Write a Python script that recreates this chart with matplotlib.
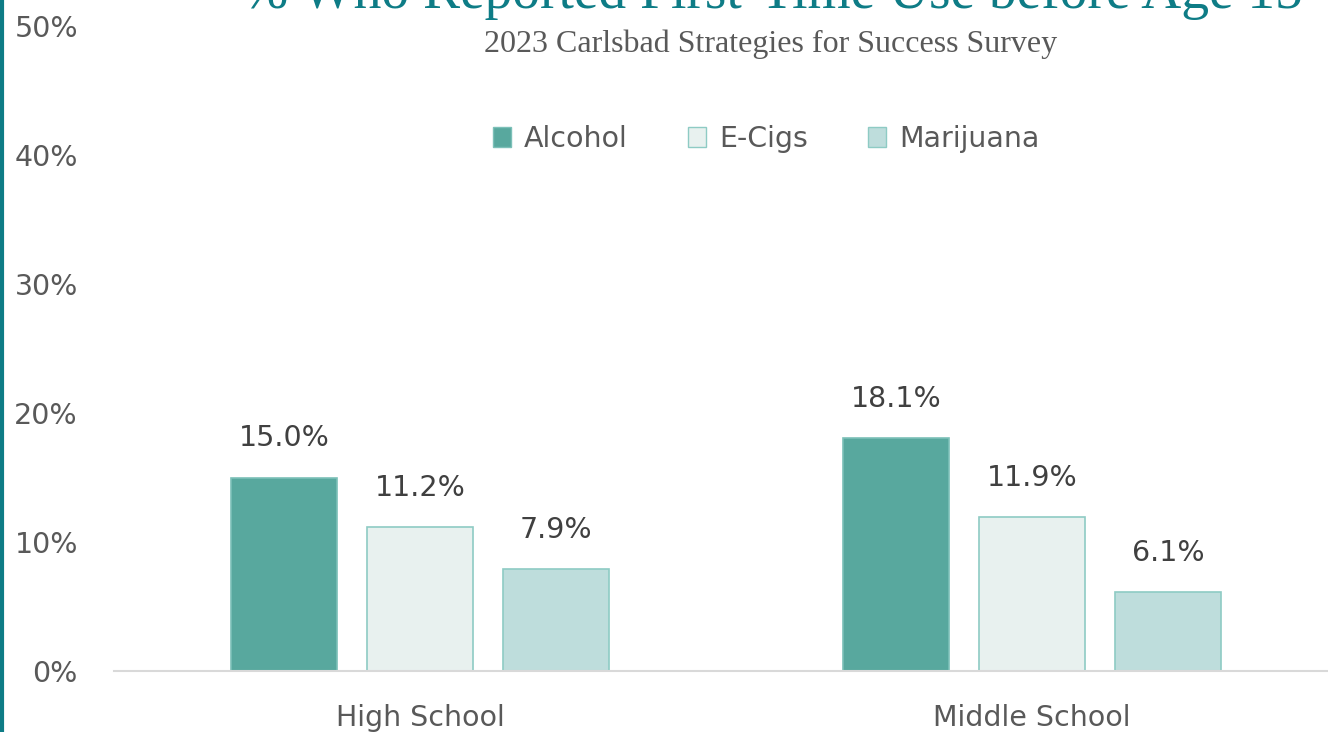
import numpy as np
from matplotlib import pyplot as plt
from matplotlib.patches import Patch

categories = ['High School', 'Middle School']
series = ['Alcohol', 'E-Cigs', 'Marijuana']
alcohol = [15.0, 18.1]
ecigs = [11.2, 11.9]
marijuana = [7.9, 6.1]
yticks = [0, 10, 20, 30, 40, 50]

fill = ['#58A89E', '#E8F1EF', '#BEDDDC']
edge = ['#7CC0B8', '#8ECBC4', '#8ECBC4']

plt.rcParams['font.family'] = ['DejaVu Sans']

fig = plt.figure(figsize=(13.28, 7.32), dpi=100)
# axes run off the right edge like the original slide
ax = fig.add_axes([114 / 1328, 61 / 732, 1224 / 1328, 645 / 732])

x = np.arange(len(categories))
w = 0.173
step = 0.222
for i, vals in enumerate([alcohol, ecigs, marijuana]):
    bars = ax.bar(x + (i - 1) * step, vals, w, color=fill[i], edgecolor=edge[i], linewidth=1.2)
    for b, v in zip(bars, vals):
        ax.annotate('{:.1f}%'.format(v), (b.get_x() + b.get_width() / 2, v),
                    xytext=(0, 18), textcoords='offset points', ha='center', va='bottom',
                    fontsize=20.5, color='#404040')

ax.set_xlim(-0.5, 1.5)
ax.set_ylim(0, 50)
ax.set_yticks(yticks)
ax.set_yticklabels(['{}%'.format(t) for t in yticks])
ax.set_xticks(x)
ax.set_xticklabels(categories)
ax.tick_params(axis='both', length=0, labelsize=20.5, labelcolor='#595959')
ax.tick_params(axis='y', pad=26)
ax.tick_params(axis='x', pad=24)
for s in ['top', 'right', 'left']:
    ax.spines[s].set_visible(False)
ax.spines['bottom'].set_color('#D9D9D9')
ax.spines['bottom'].set_linewidth(1.5)

handles = [Patch(facecolor=fill[i], edgecolor=edge[i], label=series[i]) for i in range(3)]
fig.legend(handles=handles, loc='center', bbox_to_anchor=(766 / 1328, 1 - 139 / 732),
           ncol=3, frameon=False, fontsize=20.5, labelcolor='#595959',
           handlelength=0.65, handleheight=0.65, handletextpad=0.45, columnspacing=2.1)

fig.text(772 / 1328, 1 - 8 / 732, '% Who Reported First-Time Use before Age 15',
         ha='center', va='baseline', fontsize=40, color='#0E7C86', family='Liberation Serif')
fig.text(771 / 1328, 1 - 52 / 732, '2023 Carlsbad Strategies for Success Survey',
         ha='center', va='baseline', fontsize=23, color='#595959', family='Liberation Serif')

# teal accent bar on the left edge
fig.add_artist(plt.Line2D([1.5 / 1328, 1.5 / 1328], [0, 1], color='#0E7C86', linewidth=3,
                          transform=fig.transFigure))

plt.savefig('out.png', dpi=100)
